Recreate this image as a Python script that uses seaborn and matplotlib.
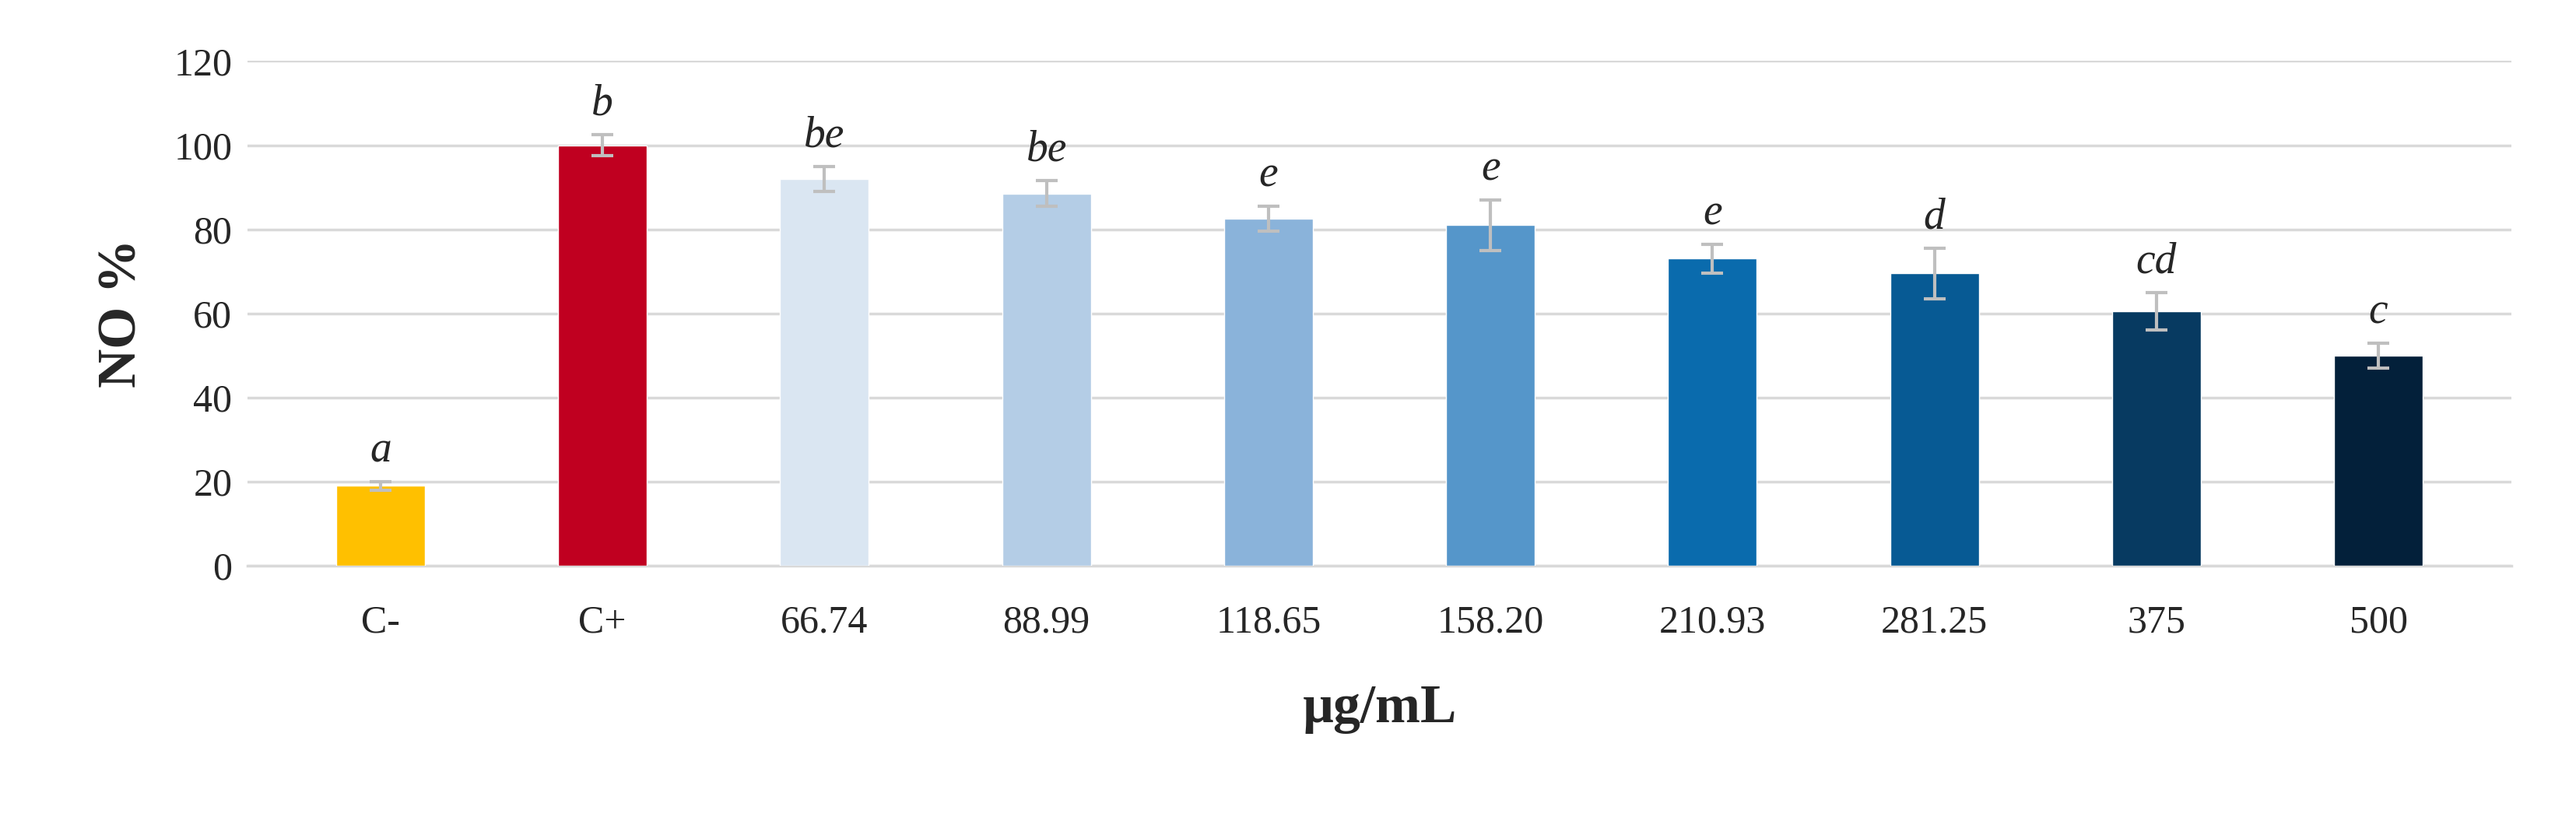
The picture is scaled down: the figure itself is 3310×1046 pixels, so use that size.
import matplotlib
matplotlib.use("Agg")
import matplotlib.pyplot as plt
import seaborn as sns
import pandas as pd
import numpy as np

categories = ["C-", "C+", "66.74", "88.99", "118.65", "158.20", "210.93", "281.25", "375", "500"]
values = [19, 100, 92, 88.5, 82.5, 81, 73, 69.5, 60.5, 50]
errors = [1, 2.5, 3, 3, 3, 6, 3.5, 6, 4.5, 3]
letters = ["a", "b", "be", "be", "e", "e", "e", "d", "cd", "c"]
colors = ["#FFC000", "#C00020", "#DAE6F2", "#B4CDE6", "#8AB3DA", "#5596CA",
          "#0A6BAD", "#075A94", "#073A61", "#03203A"]

sns.set_theme(style="white")
plt.rcParams['font.family'] = ['Liberation Serif', 'DejaVu Serif']

df = pd.DataFrame({"cat": categories, "val": values})
fig = plt.figure(figsize=(33.1, 10.46), dpi=100)
ax = fig.add_axes([0.096, 0.305, 0.879, 0.62])
sns.barplot(data=df, x="cat", y="val", hue="cat", palette=colors, legend=False,
            width=0.4, saturation=1, ax=ax, zorder=3)
x = np.arange(len(categories))
ax.errorbar(x, values, yerr=errors, fmt="none", ecolor="#BFBFBF", elinewidth=3,
            capsize=10, capthick=3, zorder=4)
for xi, v, e, l in zip(x, values, errors, letters):
    ax.text(xi, v + e + 2.5, l, ha="center", va="bottom", fontsize=40, style="italic",
            color="#262626")
ax.set_ylim(0, 120)
ax.set_yticks(range(0, 121, 20))
ax.set_xlim(-0.6, 9.6)
ax.yaxis.grid(True, color="#D9D9D9", linewidth=2.5, zorder=0)
ax.set_axisbelow(True)
for s in ["top", "right", "left"]:
    ax.spines[s].set_visible(False)
ax.spines["bottom"].set_color("#D9D9D9")
ax.spines["bottom"].set_linewidth(2.5)
ax.tick_params(axis="both", labelsize=36, length=0, pad=14, labelcolor="#262626")
ax.tick_params(axis="x", pad=36)
ax.set_xlabel("µg/mL", fontsize=50, fontweight="bold", labelpad=40, color="#262626")
ax.set_ylabel("NO %", fontsize=50, fontweight="bold", labelpad=24, color="#262626")
fig.savefig("out.png", dpi=100)
